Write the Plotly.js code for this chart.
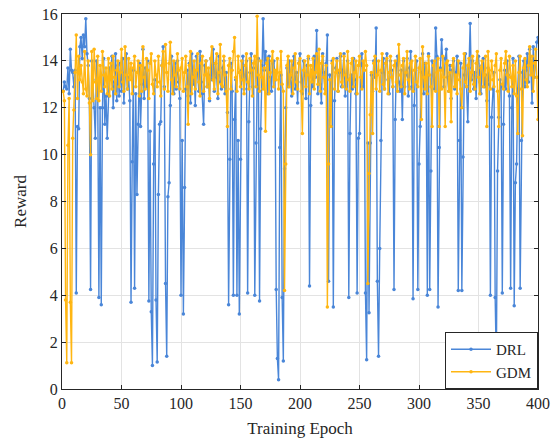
<!DOCTYPE html>
<html>
<head>
<meta charset="utf-8">
<script src="https://cdn.plot.ly/plotly-3.0.1.min.js"></script>
<style>html,body{margin:0;padding:0;background:#fff;}#chart{width:560px;height:441px;}</style>
</head>
<body>
<div id="chart"></div>
<script>
var drlReward = [
12.7, 13.1, 12.9, 12.8, 13.7, 12.6, 14.5, 13.6, 13.5, 12.9, 13.6, 4.1, 11.2, 11.1, 14.6, 15.0, 14.1, 15.1, 14.6, 15.8,
14.3, 13.8, 12.4, 4.25, 14.0, 13.2, 12.0, 10.7, 14.0, 12.9, 3.9, 12.0, 3.6, 12.0, 14.1, 11.3, 12.5, 10.7, 12.5, 13.7,
13.4, 14.2, 12.0, 13.1, 14.3, 12.3, 13.8, 12.5, 13.9, 12.7, 14.1, 12.2, 13.5, 14.3, 12.8, 13.3, 12.3, 3.7, 9.7, 13.6,
4.3, 12.6, 8.3, 11.3, 13.9, 11.2, 13.0, 14.5, 12.4, 13.7, 12.9, 14.0, 3.75, 11.0, 3.3, 1.0, 9.6, 13.2, 3.8, 1.15,
8.3, 11.3, 11.4, 13.8, 14.6, 12.9, 4.5, 1.4, 8.2, 8.8, 12.1, 14.2, 13.4, 12.6, 13.9, 12.8, 14.0, 13.1, 12.4, 4.0,
10.6, 3.2, 8.6, 12.8, 13.6, 12.5, 13.9, 12.2, 14.3, 13.0, 13.6, 12.1, 14.2, 13.5, 12.7, 14.4, 13.1, 12.6, 11.3, 13.8,
14.0, 12.9, 13.4, 12.3, 14.1, 13.2, 14.5, 12.7, 13.9, 13.3, 12.4, 14.2, 13.1, 12.8, 13.7, 14.0, 12.6, 13.5, 11.8, 3.6,
9.8, 13.9, 12.7, 4.0, 11.5, 13.2, 4.0, 10.6, 3.2, 9.8, 13.6, 14.2, 12.8, 13.4, 14.0, 4.1, 11.4, 13.5, 14.3, 12.9,
13.7, 4.0, 10.5, 13.3, 14.1, 3.75, 11.1, 13.8, 15.8, 13.6, 14.4, 13.9, 12.6, 14.2, 13.3, 12.7, 13.9, 14.0, 13.2, 4.25,
1.3, 0.4, 10.3, 13.4, 3.9, 1.2, 9.4, 12.0, 13.7, 12.9, 14.0, 13.3, 12.5, 13.8, 14.2, 12.8, 13.5, 12.2, 13.9, 14.3,
13.1, 12.6, 14.0, 13.4, 12.4, 13.8, 14.1, 4.4, 12.1, 13.6, 12.9, 14.2, 13.3, 15.3, 12.6, 13.9, 13.0, 12.2, 14.3, 13.5,
12.8, 13.9, 15.1, 4.6, 13.4, 12.2, 14.0, 3.5, 12.3, 13.7, 14.1, 12.7, 13.5, 14.2, 12.9, 13.6, 14.3, 12.5, 13.3, 14.0,
3.9, 10.9, 13.4, 12.8, 14.1, 13.2, 12.6, 4.1, 10.7, 10.9, 13.8, 14.3, 12.9, 13.6, 4.1, 1.25, 10.5, 3.25, 10.5, 13.4,
12.7, 14.0, 13.3, 15.4, 4.6, 1.4, 6.0, 10.6, 13.5, 14.1, 12.8, 13.9, 14.3, 13.2, 12.6, 14.0, 13.6, 12.9, 4.25, 11.5,
13.8, 14.2, 13.1, 12.7, 13.6, 11.5, 14.0, 12.9, 13.4, 14.1, 12.5, 13.7, 14.4, 12.9, 3.85, 12.1, 13.6, 14.0, 4.25, 9.6,
11.2, 13.5, 14.3, 12.6, 13.9, 13.2, 4.0, 14.3, 4.25, 9.3, 14.0, 13.4, 12.8, 15.4, 14.2, 3.5, 10.3, 13.7, 14.9, 13.6,
12.9, 14.1, 14.5, 13.3, 12.7, 13.8, 12.4, 13.6, 14.0, 12.8, 13.5, 14.2, 4.2, 10.6, 13.9, 4.2, 9.9, 13.4, 14.3, 12.9,
11.4, 13.7, 15.6, 13.2, 14.0, 12.8, 13.5, 12.4, 13.9, 14.2, 13.1, 12.6, 13.8, 14.1, 12.9, 13.4, 12.3, 13.7, 13.0, 4.0,
11.6, 12.8, 13.5, 3.9, 1.0, 9.3, 11.6, 13.2, 12.9, 4.1, 11.3, 13.6, 12.8, 14.0, 13.4, 12.5, 4.3, 12.0, 14.1, 3.55,
8.8, 9.6, 12.8, 14.2, 4.3, 10.6, 13.5, 14.0, 12.9, 13.6, 14.3, 13.1, 14.5, 13.8, 12.2, 14.6, 13.3, 14.0, 14.8, 15.0
];
var gdmReward = [
12.7, 12.3, 3.8, 1.12, 10.4, 12.4, 3.7, 1.12, 10.7, 11.9, 13.5, 15.1, 12.4, 14.2, 13.2, 13.8, 13.1, 12.6, 14.4, 12.8,
12.5, 14.0, 12.2, 10.0, 14.4, 12.3, 14.5, 13.1, 12.4, 14.2, 12.3, 13.8, 12.7, 14.4, 13.4, 12.9, 13.7, 12.6, 14.1, 12.5,
13.9, 12.8, 14.2, 13.3, 12.6, 13.6, 14.0, 12.9, 13.5, 14.5, 13.1, 12.7, 14.6, 13.4, 12.8, 14.1, 13.2, 13.9, 12.6, 13.7,
14.2, 12.9, 13.5, 14.0, 12.5, 13.8, 12.7, 14.6, 13.3, 12.8, 14.1, 13.6, 12.4, 13.9, 14.3, 13.0, 12.6, 14.0, 13.4, 12.9,
14.2, 13.1, 12.5, 13.8, 14.4, 12.8, 14.7, 13.5, 12.7, 13.9, 14.8, 13.2, 12.6, 14.0, 13.4, 12.9, 14.3, 13.6, 12.8, 13.7,
14.1, 12.7, 13.5, 14.2, 12.9, 11.3, 13.8, 14.4, 12.6, 13.3, 14.0, 12.8, 13.6, 14.3, 13.1, 12.5, 13.9, 14.2, 12.7, 13.4,
14.0, 12.9, 13.7, 12.4, 14.1, 14.6, 13.2, 12.8, 13.9, 14.3, 12.6, 13.5, 14.7, 13.0, 12.9, 14.2, 13.4, 12.7, 11.2, 13.8,
14.1, 12.8, 13.6, 14.4, 15.0, 13.3, 12.7, 14.2, 13.5, 12.9, 14.0, 13.2, 12.6, 13.8, 14.3, 13.1, 12.8, 14.1, 13.6, 12.5,
13.9, 14.2, 12.9, 15.9, 13.4, 12.7, 14.0, 13.3, 12.8, 13.7, 11.0, 13.9, 14.1, 12.6, 13.5, 14.0, 14.4, 12.9, 13.6, 13.2,
14.1, 12.8, 13.5, 14.4, 13.0, 12.7, 4.2, 9.6, 13.8, 14.2, 12.9, 13.4, 14.0, 12.6, 13.7, 14.3, 13.1, 12.8, 13.9, 14.1,
12.7, 10.9, 13.6, 14.0, 12.9, 13.4, 14.2, 12.6, 13.8, 13.1, 14.1, 12.8, 13.5, 14.3, 13.0, 14.5, 12.7, 13.9, 14.2, 13.3,
12.6, 13.8, 3.5, 9.6, 13.2, 11.2, 13.9, 14.1, 12.8, 13.5, 14.0, 12.7, 13.6, 14.3, 13.1, 12.9, 14.2, 13.4, 12.8, 14.4,
13.2, 12.7, 13.9, 14.1, 12.9, 13.5, 14.0, 12.6, 13.8, 14.2, 13.3, 12.8, 14.0, 13.6, 14.4, 13.8, 4.5, 9.2, 11.7, 13.5,
10.9, 13.9, 14.2, 12.8, 13.4, 14.0, 12.7, 13.6, 14.3, 13.0, 12.8, 13.9, 14.1, 12.6, 13.5, 14.2, 13.3, 12.9, 13.8, 14.0,
13.1, 12.7, 14.7, 13.4, 12.9, 13.8, 14.1, 12.6, 13.5, 14.4, 13.2, 12.8, 13.9, 14.0, 12.7, 13.6, 14.2, 13.1, 12.9, 13.7,
14.1, 11.5, 14.6, 13.3, 12.8, 13.9, 12.6, 14.2, 13.4, 12.9, 11.2, 13.8, 14.0, 12.7, 13.5, 14.1, 11.2, 13.6, 12.8, 14.2,
13.3, 11.2, 13.9, 14.0, 12.7, 13.5, 11.4, 13.8, 14.1, 12.9, 13.4, 12.6, 14.0, 13.2, 12.8, 12.0, 13.7, 14.3, 13.1, 12.9,
13.8, 14.1, 12.7, 13.5, 14.2, 13.0, 12.8, 13.9, 14.4, 13.3, 12.6, 13.7, 14.0, 12.9, 13.4, 14.2, 11.2, 14.4, 13.6, 12.8,
14.0, 13.2, 12.9, 13.8, 14.3, 12.7, 11.2, 13.6, 14.1, 13.0, 12.8, 13.9, 14.4, 13.4, 12.7, 14.2, 13.3, 12.9, 13.8, 12.6,
14.0, 12.5, 10.9, 13.5, 14.2, 12.8, 10.8, 13.7, 14.1, 13.2, 12.9, 13.8, 14.6, 13.4, 14.2, 12.7, 13.9, 14.5, 13.3, 11.5
];
var epochs = [];
for (var i = 1; i <= drlReward.length; i++) epochs.push(i);
var xTicks = [0, 50, 100, 150, 200, 250, 300, 350, 400];
var yTicks = [0, 2, 4, 6, 8, 10, 12, 14, 16];

var fontFam = 'Liberation Serif, serif';
var traces = [
  {x: epochs, y: drlReward, name: 'DRL', type: 'scatter', mode: 'lines+markers',
   line: {color: '#4a86d8', width: 1.4}, marker: {color: '#4a86d8', size: 3.5}},
  {x: epochs, y: gdmReward, name: 'GDM', type: 'scatter', mode: 'lines+markers',
   line: {color: '#ffb612', width: 1.4}, marker: {color: '#ffb612', size: 3.5}}
];
var axisCommon = {
  showline: true, linecolor: '#262626', linewidth: 1, mirror: 'ticks',
  ticks: 'inside', ticklen: 4, tickcolor: '#262626',
  showgrid: true, gridcolor: '#e3e3e3', gridwidth: 1, zeroline: false,
  tickfont: {family: fontFam, size: 16, color: '#262626'}
};
var layout = {
  width: 560, height: 441,
  margin: {l: 62, r: 22, t: 14, b: 52},
  paper_bgcolor: '#ffffff', plot_bgcolor: '#ffffff',
  font: {family: fontFam, color: '#262626'},
  showlegend: true,
  legend: {x: 1, y: 0, xanchor: 'right', yanchor: 'bottom', bgcolor: '#ffffff',
    bordercolor: '#262626', borderwidth: 1, font: {family: fontFam, size: 15, color: '#262626'},
    tracegroupgap: 0, itemwidth: 40},
  xaxis: Object.assign({}, axisCommon, {range: [0, 400], tickvals: xTicks, ticktext: xTicks.map(String),
    title: {text: 'Training Epoch', font: {family: fontFam, size: 17, color: '#262626'}, standoff: 10}}),
  yaxis: Object.assign({}, axisCommon, {range: [0, 16], tickvals: yTicks, ticktext: yTicks.map(String),
    title: {text: 'Reward', font: {family: fontFam, size: 17, color: '#262626'}, standoff: 10}})
};
Plotly.newPlot('chart', traces, layout, {staticPlot: true, displayModeBar: false});
</script>
</body>
</html>
